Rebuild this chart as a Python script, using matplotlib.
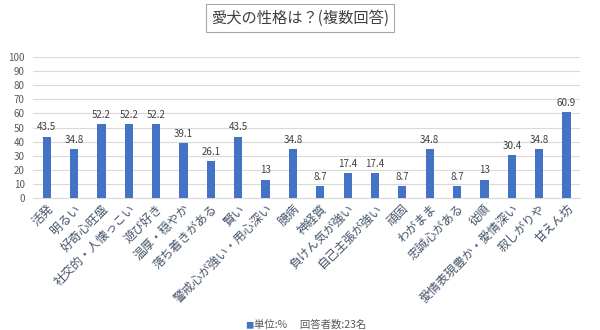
import numpy as np
import matplotlib.pyplot as plt

plt.rcParams['font.family'] = ['Noto Sans CJK JP', 'DejaVu Sans']

# data
categories = ['活発', '明るい', '好奇心旺盛', '社交的・人懐っこい', '遊び好き',
              '温厚・穏やか', '落ち着きがある', '賢い', '警戒心が強い・用心深い', '臆病',
              '神経質', '負けん気が強い', '自己主張が強い', '頑固', 'わがまま',
              '忠誠心がある', '従順', '愛情表現豊か・愛情深い', '寂しがりや', '甘えん坊']
values = [43.5, 34.8, 52.2, 52.2, 52.2, 39.1, 26.1, 43.5, 13, 34.8,
          8.7, 17.4, 17.4, 8.7, 34.8, 8.7, 13, 30.4, 34.8, 60.9]
value_labels = ['43.5', '34.8', '52.2', '52.2', '52.2', '39.1', '26.1', '43.5', '13', '34.8',
                '8.7', '17.4', '17.4', '8.7', '34.8', '8.7', '13', '30.4', '34.8', '60.9']
yticks = list(range(0, 101, 10))

bar_color = '#4472C4'

fig = plt.figure(figsize=(6, 3.3), dpi=100)
ax = fig.add_axes([0.055, 0.4, 0.912, 0.427])

x = np.arange(len(categories))
bars = ax.bar(x, values, width=0.3, color=bar_color, zorder=3)
for xi, v, lab in zip(x, values, value_labels):
    ax.text(xi, v + 3, lab, ha='center', va='bottom', fontsize=7, color='#404040')

ax.set_xlim(-0.5, len(categories) - 0.5)
ax.set_ylim(0, 100)
ax.set_yticks(yticks)
ax.tick_params(axis='y', length=0, labelsize=7, labelcolor='#595959', pad=6)
ax.tick_params(axis='x', length=0, pad=3)
ax.set_xticks(x)
ax.set_xticklabels(categories, rotation=45, ha='right', rotation_mode='anchor',
                   fontsize=8.7, color='#44546A')
ax.grid(axis='y', color='#D9D9D9', linewidth=0.8, zorder=0)
for s in ['top', 'right', 'left']:
    ax.spines[s].set_visible(False)
ax.spines['bottom'].set_color('#D9D9D9')

fig.text(0.5, 0.945, '愛犬の性格は？(複数回答)', ha='center', va='center', fontsize=11,
         color='#404040',
         bbox=dict(boxstyle='square,pad=0.35', facecolor='white', edgecolor='#A6A6A6', linewidth=0.8))

fig.text(0.408, 0.0, '■', ha='left', va='bottom', fontsize=6, color=bar_color)
fig.text(0.423, 0.0, '単位:%　 回答者数:23名', ha='left', va='bottom', fontsize=7.5, color='#595959')

fig.savefig('out.png', dpi=100)
